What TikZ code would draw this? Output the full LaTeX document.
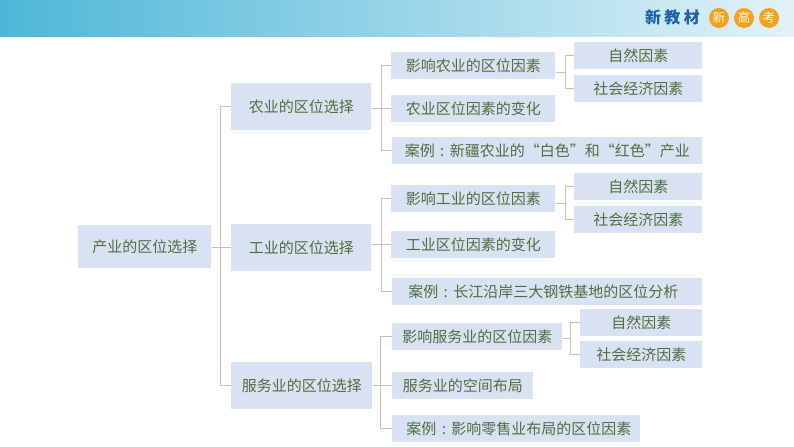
\documentclass[tikz,border=0pt]{standalone}
\usepackage{fontspec}
\usetikzlibrary{calc}
\setmainfont{Noto Sans CJK SC}
\definecolor{boxfill}{HTML}{D9E2F3}
\definecolor{txtc}{HTML}{4F6F3F}
\definecolor{linec}{HTML}{C3C5B2}
\definecolor{brandc}{HTML}{1F5FA8}
\definecolor{badgec}{HTML}{F5A01E}
\definecolor{gradl}{HTML}{4DB7D8}
\definecolor{gradm}{HTML}{8FD2E8}
\definecolor{gradr}{HTML}{E2F2F8}
\newcommand{\cln}{\makebox[1em][c]{:}}
\begin{document}
\begin{tikzpicture}[x=0.75pt,y=-0.75pt,
  bx/.style={fill=boxfill,inner sep=0pt,text=txtc,font=\fontsize{11.25pt}{13pt}\selectfont,align=center},
  conn/.style={draw=linec,line width=0.75pt},
  badge/.style={circle,fill=badgec,text=white!85!yellow,inner sep=0pt,minimum size=15pt,font=\fontsize{9.5pt}{10pt}\selectfont}]
\useasboundingbox (0,0) rectangle (794,447);
\fill[white] (0,0) rectangle (794,447);
\shade[left color=gradl,middle color=gradm,right color=gradr] (0,0) rectangle (794,36);
\node[text=brandc,font=\bfseries\fontsize{12pt}{13pt}\selectfont] (brand) at (672.5,17) {新\hspace{2.5pt}教\hspace{2.5pt}材};
\node[badge] (b1) at (719,18) {新};
\node[badge] (b2) at (744,18) {高};
\node[badge] (b3) at (769,18) {考};
\newcommand{\bxn}[6]{\node[bx,minimum width=#4*0.75pt-#2*0.75pt,minimum height=#5*0.75pt-#3*0.75pt,anchor=north west] (#1) at (#2,#3) {#6};}
\bxn{root}{78}{225}{211}{268}{产业的区位选择}
\bxn{a}{231}{83}{371}{130}{农业的区位选择}
\bxn{b}{231}{223.5}{371}{270.5}{工业的区位选择}
\bxn{c}{231}{362}{372}{409}{服务业的区位选择}
\bxn{a1}{391}{52}{555}{79}{影响农业的区位因素}
\bxn{a2}{391}{95}{555}{122}{农业区位因素的变化}
\bxn{a3}{392}{137}{702}{164}{案例\cln 新疆农业的“白色”和“红色”产业}
\bxn{a11}{574}{42}{702}{69}{自然因素}
\bxn{a12}{574}{75}{702}{102}{社会经济因素}
\bxn{b1x}{391}{185}{555}{212}{影响工业的区位因素}
\bxn{b2x}{391}{231}{555}{258}{工业区位因素的变化}
\bxn{b3x}{392}{278}{702}{305}{案例\cln 长江沿岸三大钢铁基地的区位分析\hspace{6pt}}
\bxn{b11}{574}{173}{702}{200}{自然因素}
\bxn{b12}{574}{206}{702}{233}{社会经济因素}
\bxn{c1}{392}{323}{562}{350}{影响服务业的区位因素}
\bxn{c2}{392}{372}{533}{399}{服务业的空间布局}
\bxn{c3}{392}{415}{640}{442}{\hspace{4pt}案例\cln 影响零售业布局的区位因素}
\bxn{c11}{580}{309}{702}{336}{自然因素}
\bxn{c12}{580}{341}{702}{368}{社会经济因素}
\coordinate (a1m) at ($(a11.west)!0.5!(a12.west)$);
\coordinate (b1m) at ($(b11.west)!0.5!(b12.west)$);
\coordinate (c1m) at ($(c11.west)!0.5!(c12.west)$);
\foreach \p/\g/\f/\m/\l in {root/9/a/b/c,a/10/a1/a2/a3,b/10/b1x/b2x/b3x,c/8/c1/c2/c3,a1/9.5/a11/a1m/a12,b1x/9.5/b11/b1m/b12,c1/7.5/c11/c1m/c12}{
  \draw[conn] (\p.east |- \m) -- ++(\g,0) |- (\f.west);
  \draw[conn] (\p.east |- \m) -- ++(\g,0) |- (\l.west);
}
\foreach \p/\m in {root/b,a/a2,b/b2x,c/c2}{
  \draw[conn] (\p.east |- \m.west) -- (\m.west);
}
\end{tikzpicture}
\end{document}
